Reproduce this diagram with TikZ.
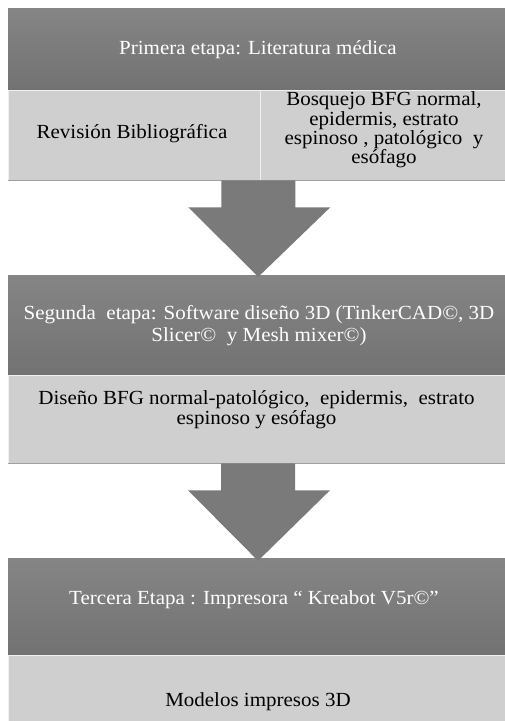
\documentclass[tikz,border=0pt]{standalone}
\usepackage{fontspec}
\setmainfont{Liberation Serif}[FakeStretch=1.05]
\usetikzlibrary{calc}
\definecolor{darktop}{HTML}{858585}
\definecolor{darkbot}{HTML}{727272}
\definecolor{lightfill}{HTML}{CFCFCF}
\definecolor{arrowgray}{HTML}{7A7A7A}
\begin{document}
\begin{tikzpicture}[x=1pt,y=-1pt,
  darkbox/.style={rectangle, inner sep=0pt, top color=darktop, bottom color=darkbot, draw=none},
  lightbox/.style={rectangle, inner sep=0pt, fill=lightfill, draw=white!88!gray, line width=0.6pt},
  wtext/.style={text=white, align=center, inner sep=0pt},
  btext/.style={text=black, align=center, inner sep=0pt},
  arr/.style={fill=arrowgray, draw=none},
  shade line/.style={draw=gray!75, line width=1.2pt}]
\useasboundingbox (0,0) rectangle (505,721);
% first stage
\node[darkbox, minimum width=497pt, minimum height=82pt] (d1) at (256.5,49) {};
\node[lightbox, minimum width=252pt, minimum height=90pt] (l1a) at (134,135) {};
\node[lightbox, minimum width=245pt, minimum height=90pt] (l1b) at (382.5,135) {};
\draw[shade line] (l1a.south west) -- (l1b.south east);
\node[wtext, font=\fontsize{20}{22}\selectfont] (t1) at (258,50) {Primera etapa: Literatura médica};
\node[btext, font=\fontsize{20}{22}\selectfont] (t1a) at (132,134) {Revisión Bibliográfica};
\node[btext, font=\fontsize{20}{18}\selectfont] (t1b) at (384,130) {Bosquejo BFG normal,\\epidermis, estrato\\espinoso , patológico\ \ y\\esófago};
% second stage
\node[darkbox, minimum width=497pt, minimum height=100pt] (d2) at (256.5,325) {};
\node[lightbox, minimum width=497pt, minimum height=88pt] (l2) at (256.5,419) {};
\draw[shade line] (l2.south west) -- (l2.south east);
\node[wtext, font=\fontsize{20}{22}\selectfont] (t2) at (259,326) {Segunda\ \ etapa: Software diseño 3D (TinkerCAD©, 3D\\Slicer©\ \ y Mesh mixer©)};
\node[btext, font=\fontsize{20}{20}\selectfont] (t2b) at (256.5,410) {Diseño BFG normal-patológico,\ \ epidermis,\ \ estrato\\espinoso y esófago};
% third stage
\node[darkbox, minimum width=497pt, minimum height=97pt] (d3) at (256.5,606.5) {};
\node[lightbox, minimum width=497pt, minimum height=66pt] (l3) at (256.5,688) {};
\node[wtext, font=\fontsize{20}{22}\selectfont] (t3) at (254,600) {Tercera Etapa : Impresora “ Kreabot V5r©”};
\node[btext, font=\fontsize{20}{22}\selectfont] (t3b) at (258,702) {Modelos impresos 3D};
% arrows
\coordinate (a1) at ($(l1a.south east)+(-2,0)$);
\coordinate (tip1) at ($(a1 |- d2.north)+(0,2)$);
\fill[arr] ($(a1)+(-37,0)$) -- ($(a1)+(37,0)$) -- ($(a1)+(37,27)$) -- ($(a1)+(72,27)$) -- (tip1) -- ($(a1)+(-70,27)$) -- ($(a1)+(-37,27)$) -- cycle;
\coordinate (a2) at ($(l2.south)+(1.5,0)$);
\coordinate (tip2) at ($(a2 |- d3.north)+(0,3)$);
\fill[arr] ($(a2)+(-37,0)$) -- ($(a2)+(37,0)$) -- ($(a2)+(37,27)$) -- ($(a2)+(72,27)$) -- (tip2) -- ($(a2)+(-70,27)$) -- ($(a2)+(-37,27)$) -- cycle;
\end{tikzpicture}
\end{document}
